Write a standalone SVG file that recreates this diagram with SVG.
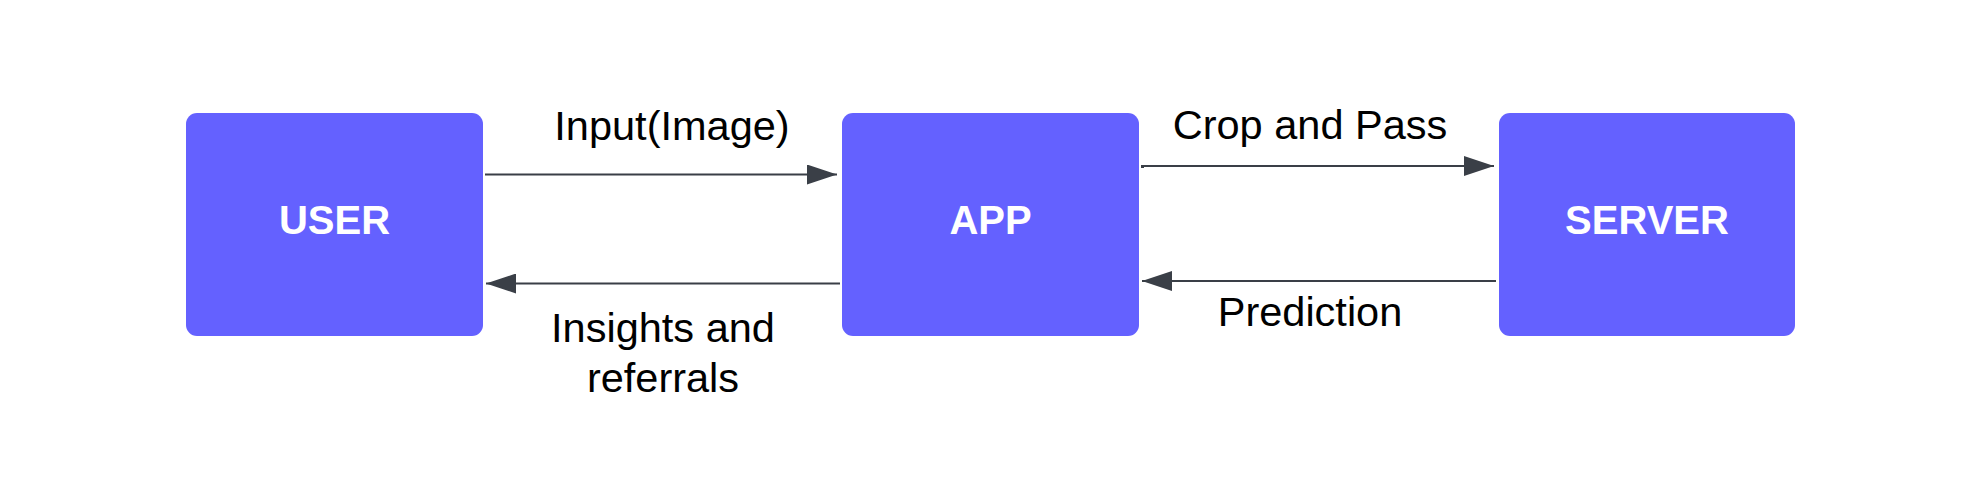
<svg xmlns="http://www.w3.org/2000/svg" width="1968" height="501" viewBox="0 0 1968 501">
<style>
.box{fill:#6461FF;}
.nl{font-family:"Liberation Sans",Arial,sans-serif;font-weight:bold;font-size:40px;fill:#FFFFFF;text-anchor:middle;}
.el{font-family:"Liberation Sans",Arial,sans-serif;font-size:41.5px;fill:#000000;text-anchor:middle;}
.ln{stroke:#3A3F47;stroke-width:2;fill:none;}
</style>
<defs>
<marker id="ah" markerUnits="userSpaceOnUse" markerWidth="30" markerHeight="20" refX="30" refY="10" orient="auto">
<path d="M0,0 L30,10 L0,20 Z" fill="#3A3F47"/>
</marker>
</defs>
<rect width="1968" height="501" fill="#FFFFFF"/>
<g id="user">
<rect class="box" x="186" y="113" width="297" height="223" rx="11"/>
<text class="nl" x="334.5" y="234">USER</text>
</g>
<g id="app">
<rect class="box" x="842" y="113" width="297" height="223" rx="11"/>
<text class="nl" x="990.5" y="234">APP</text>
</g>
<g id="server">
<rect class="box" x="1499" y="113" width="296" height="223" rx="11"/>
<text class="nl" x="1647" y="234">SERVER</text>
</g>
<g id="connectors">
<line class="ln" x1="485" y1="174.5" x2="837" y2="174.5" marker-end="url(#ah)"/>
<line class="ln" x1="840" y1="283.5" x2="486" y2="283.5" marker-end="url(#ah)"/>
<line class="ln" x1="1141" y1="166" x2="1494" y2="166" marker-end="url(#ah)"/>
<rect x="1141" y="165" width="3" height="3" fill="#3A3F47"/>
<line class="ln" x1="1496" y1="281" x2="1142" y2="281" marker-end="url(#ah)"/>
<text class="el" x="672" y="140">Input(Image)</text>
<text class="el" x="663" y="342">Insights and</text>
<text class="el" x="663" y="392">referrals</text>
<text class="el" x="1310" y="139">Crop and Pass</text>
<text class="el" x="1310" y="326">Prediction</text>
</g>
</svg>
